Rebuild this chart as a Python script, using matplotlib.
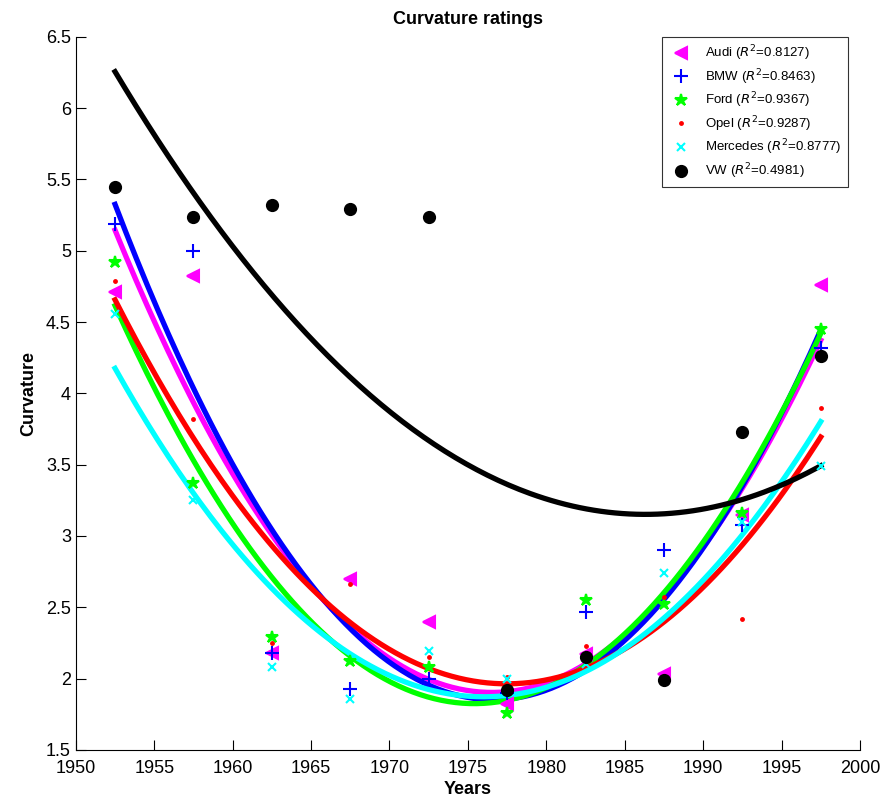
import numpy as np
import matplotlib
matplotlib.use('Agg')
import matplotlib.pyplot as plt

plt.rcParams['font.family'] = ['Liberation Sans', 'DejaVu Sans']

years = [1952.5, 1957.5, 1962.5, 1967.5, 1972.5, 1977.5, 1982.5, 1987.5, 1992.5, 1997.5]

audi = [4.71, 4.82, 2.18, 2.70, 2.40, 1.82, 2.17, 2.03, 3.15, 4.76]
bmw = [5.19, 5.00, 2.18, 1.93, 2.00, 1.90, 2.47, 2.90, 3.08, 4.32]
ford = [4.92, 3.37, 2.29, 2.12, 2.08, 1.76, 2.55, 2.52, 3.16, 4.45]
opel = [4.79, 3.82, 2.25, 2.66, 2.15, 2.01, 2.23, 2.57, 2.42, 3.90]
mercedes = [4.56, 3.25, 2.08, 1.86, 2.19, 2.00, 2.10, 2.74, 3.10, 3.49]
vw = [5.45, 5.24, 5.32, 5.29, 5.24, 1.92, 2.15, 1.99, 3.73, 4.26]

brands = ['Audi', 'BMW', 'Ford', 'Opel', 'Mercedes', 'VW']
r2 = ['0.8127', '0.8463', '0.9367', '0.9287', '0.8777', '0.4981']
series = [audi, bmw, ford, opel, mercedes, vw]

colors = ['#ff00ff', '#0000ff', '#00ff00', '#ff0000', '#00ffff', '#000000']
markers = ['<', '+', '*', '.', 'x', 'o']
msizes = [9, 10, 9, 4, 6, 8]

fig = plt.figure(figsize=(8.82, 8.02), dpi=100)
ax = fig.add_axes([0.086, 0.065, 0.889, 0.889])

x = np.array(years)
xs = np.linspace(x.min(), x.max(), 200)
handles = []
for i, (name, vals) in enumerate(zip(brands, series)):
    # quadratic fit, like the original
    coef = np.polyfit(x - 1975, vals, 2)
    ax.plot(xs, np.polyval(coef, xs - 1975), color=colors[i], lw=3.8, zorder=2 + i * 0.1)
    h, = ax.plot(x, vals, linestyle='none', marker=markers[i], color=colors[i],
                 markersize=msizes[i], markeredgewidth=1.5, zorder=5,
                 label=name + ' ($R^2$=' + r2[i] + ')')
    handles.append(h)

ax.set_xlim(1950, 2000)
ax.set_ylim(1.5, 6.5)
ax.set_xticks(np.arange(1950, 2001, 5))
ax.set_yticks(np.arange(1.5, 6.51, 0.5))
ax.set_yticklabels(['1.5', '2', '2.5', '3', '3.5', '4', '4.5', '5', '5.5', '6', '6.5'])
ax.tick_params(direction='in', length=7, labelsize=13, width=0.8)
ax.tick_params(axis='x', pad=7)
ax.spines['top'].set_visible(False)
ax.spines['right'].set_visible(False)

ax.set_xlabel('Years', fontsize=13, fontweight='bold', labelpad=3)
ax.set_ylabel('Curvature', fontsize=13, fontweight='bold', labelpad=6)
ax.set_title('Curvature ratings', fontsize=13, fontweight='bold', pad=9)

leg = ax.legend(handles=handles, loc='upper right', fontsize=9.5, frameon=True,
                fancybox=False, edgecolor='black', handletextpad=0.8,
                borderpad=0.5, labelspacing=0.3, borderaxespad=0,
                bbox_to_anchor=(0.985, 1.0))
leg.get_frame().set_linewidth(0.8)

plt.savefig('out.png', dpi=100)
